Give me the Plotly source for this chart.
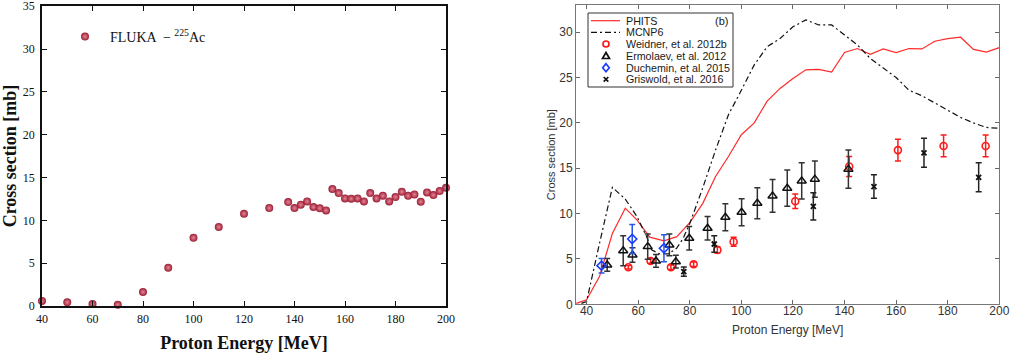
import plotly.graph_objects as go

W, H = 1018, 353
def px(x): return x / W
def py(y): return 1 - y / H

# ---------------- data: left panel (FLUKA) ----------------
fluka_E = [40, 50, 60, 70, 80, 90, 100, 110, 120, 130, 137.5, 140, 142.5, 145, 147.5, 150, 152.5,
           155, 157.5, 160, 162.5, 165, 167.5, 170, 172.5, 175, 177.5, 180, 182.5, 185, 187.5,
           190, 192.5, 195, 197.5, 200]
fluka_xs = [0.58, 0.43, 0.23, 0.15, 1.63, 4.47, 7.97, 9.22, 10.77, 11.43, 12.13, 11.43, 11.82, 12.21,
            11.55, 11.40, 11.16, 13.65, 13.18, 12.56, 12.52, 12.56, 12.21, 13.18, 12.56, 12.87, 12.21,
            12.72, 13.34, 12.87, 13.03, 12.17, 13.26, 12.95, 13.42, 13.81]

# ---------------- data: right panel ----------------
phits_E = [36, 40, 45, 50, 55, 59.5, 64.5, 70, 75, 80, 85, 90, 95, 100, 105, 110, 115, 120, 125, 130,
           135, 140, 145, 150, 155, 160, 165, 170, 175, 180, 185, 190, 195, 200]
phits_xs = [0.1, 0.5, 3.05, 7.8, 10.6, 9.3, 7.4, 7.0, 7.46, 9.0, 11.1, 14.1, 16.3, 18.7, 20.0, 22.4,
            23.8, 24.9, 25.85, 25.9, 25.6, 27.76, 28.2, 27.57, 28.16, 27.76, 28.2, 28.16, 29.0, 29.3,
            29.45, 28.1, 27.8, 28.3]

mcnp_E = [38, 40, 45, 50, 55, 59.5, 63.3, 65.2, 68.4, 71.6, 74.9, 77.5, 80, 85, 90, 95, 100, 105, 110,
          115, 120, 125, 130, 135, 140, 145, 150, 155, 160, 165, 170, 175, 180, 185, 190, 195, 200]
mcnp_xs = [0.1, 0.3, 6.7, 12.9, 11.6, 9.7, 7.45, 6.0, 5.55, 5.55, 6.17, 7.3, 8.9, 12.8, 17.0, 20.9,
           23.6, 26.4, 28.4, 29.3, 30.6, 31.36, 30.8, 30.8, 29.7, 28.6, 27.1, 26.0, 25.0, 23.6, 23.0,
           22.2, 21.4, 20.6, 20.0, 19.5, 19.4]

weid_E = [56.2, 64.8, 72.7, 81.5, 90.7, 97.0, 120.9, 141.8, 160.7, 178.4, 194.7]
weid_xs = [4.08, 4.78, 4.08, 4.41, 6.0, 6.9, 11.36, 15.2, 17.0, 17.46, 17.46]
weid_err = [0.2, 0.25, 0.25, 0.25, 0.35, 0.5, 0.8, 1.1, 1.2, 1.2, 1.2]

erm_E = [48.0, 54.2, 57.8, 63.7, 66.9, 72.1, 74.6, 79.8, 86.9, 93.8, 100.1, 106.2, 112.1, 117.8,
         123.4, 128.5, 141.5]
erm_xs = [4.34, 5.9, 5.44, 6.36, 4.78, 6.54, 4.7, 7.28, 8.38, 9.6, 10.15, 11.14, 11.95, 12.8, 13.6,
          13.8, 14.9]
erm_err = [0.7, 1.65, 0.8, 1.4, 0.7, 1.2, 0.7, 1.3, 1.3, 1.5, 1.5, 1.7, 1.8, 2.0, 2.0, 2.0, 2.1]

duch_E = [45.8, 57.7, 70.0]
duch_xs = [4.26, 7.2, 6.18]
duch_err = [0.8, 1.6, 1.5]

gris_E = [77.7, 89.5, 127.9, 151.4, 170.8, 192.0]
gris_xs = [3.6, 6.65, 10.8, 12.98, 16.7, 14.0]
gris_err = [0.5, 0.9, 1.5, 1.3, 1.6, 1.6]

legend_names = ["PHITS", "MCNP6", "Weidner, et al. 2012b", "Ermolaev, et al. 2012",
                "Duchemin, et al. 2015", "Griswold, et al. 2016"]

RED, BLK, BLU = "#ff1a1a", "#111111", "#1a3cff"

fig = go.Figure()

# left
fig.add_trace(go.Scatter(
    x=fluka_E, y=fluka_xs, mode="markers", name="FLUKA  \u2212 <sup>225</sup>Ac",
    xaxis="x", yaxis="y", legend="legend2", cliponaxis=False,
    marker=dict(size=8, color="#9a1f36", line=dict(width=0),
                gradient=dict(type="radial", color="#e98596")),
))

# right
fig.add_trace(go.Scatter(x=phits_E, y=phits_xs, mode="lines", xaxis="x2", yaxis="y2",
                         line=dict(color="#ff2a2a", width=1.2), showlegend=False))
fig.add_trace(go.Scatter(x=mcnp_E, y=mcnp_xs, mode="lines", xaxis="x2", yaxis="y2",
                         line=dict(color=BLK, width=1.2, dash="6px,3px,2px,3px"), showlegend=False))
fig.add_trace(go.Scatter(x=weid_E, y=weid_xs, mode="markers", xaxis="x2", yaxis="y2", showlegend=False,
                         marker=dict(symbol="circle-open", size=7, color=RED, line=dict(width=1.6)),
                         error_y=dict(type="data", array=weid_err, color=RED, thickness=1.5, width=3)))
fig.add_trace(go.Scatter(x=erm_E, y=erm_xs, mode="markers", xaxis="x2", yaxis="y2", showlegend=False,
                         marker=dict(symbol="triangle-up-open", size=8, color=BLK, line=dict(width=1.5)),
                         error_y=dict(type="data", array=erm_err, color="#333333", thickness=1.5, width=3)))
fig.add_trace(go.Scatter(x=duch_E, y=duch_xs, mode="markers", xaxis="x2", yaxis="y2", showlegend=False,
                         marker=dict(symbol="diamond-open", size=7, color=BLU, line=dict(width=1.6)),
                         error_y=dict(type="data", array=duch_err, color="#2a55e8", thickness=1.5, width=3)))
fig.add_trace(go.Scatter(x=gris_E, y=gris_xs, mode="markers", xaxis="x2", yaxis="y2", showlegend=False,
                         marker=dict(symbol="x-thin-open", size=5, color=BLK, line=dict(width=1.8)),
                         error_y=dict(type="data", array=gris_err, color="#222222", thickness=1.5, width=3)))

serif = "Liberation Serif"
sans = "Liberation Sans"

shapes = []
annotations = []

# compact legend for right panel
shapes.append(dict(type="rect", xref="paper", yref="paper", x0=px(588), x1=px(733), y0=py(87), y1=py(13),
                   line=dict(color="#333333", width=1), fillcolor="white", layer="above"))
rows = [20.7, 32.3, 44.0, 56.0, 67.7, 79.3]
shapes.append(dict(type="line", xref="paper", yref="paper", x0=px(591), x1=px(620), y0=py(rows[0]), y1=py(rows[0]),
                   line=dict(color="#ff2a2a", width=1.2), layer="above"))
shapes.append(dict(type="line", xref="paper", yref="paper", x0=px(591), x1=px(620), y0=py(rows[1]), y1=py(rows[1]),
                   line=dict(color=BLK, width=1.2, dash="6px,3px,2px,3px"), layer="above"))
shapes.append(dict(type="circle", xref="paper", yref="paper", xsizemode="pixel", ysizemode="pixel",
                   xanchor=px(606), yanchor=py(rows[2]), x0=-3, x1=3, y0=-3, y1=3,
                   line=dict(color=RED, width=1.7), layer="above"))
glyphs = [
    None, None, None,
    ("M-3.5,-2.5 L3.5,-2.5 L0,3.5 Z", BLK),
    ("M0,4 L3.3,0 L0,-4 L-3.3,0 Z", BLU),
    ("M-2.3,-2.3 L2.3,2.3 M-2.3,2.3 L2.3,-2.3", BLK),
]
for i, name in enumerate(legend_names):
    annotations.append(dict(x=px(624), y=py(rows[i]), xref="paper", yref="paper", text=name,
                            showarrow=False, xanchor="left", yanchor="middle",
                            font=dict(family=sans, size=10.7, color="#1a1a1a")))
    if glyphs[i]:
        path, c = glyphs[i]
        shapes.append(dict(type="path", xref="paper", yref="paper", xsizemode="pixel", ysizemode="pixel",
                           xanchor=px(606), yanchor=py(rows[i]), path=path,
                           line=dict(color=c, width=1.7), layer="above"))
annotations.append(dict(x=px(730), y=py(21), xref="paper", yref="paper", text="(b)", showarrow=False,
                        xanchor="right", yanchor="middle", font=dict(family=sans, size=11, color="#1a1a1a")))

fig.update_layout(
    width=W, height=H, margin=dict(l=0, r=0, t=0, b=0),
    paper_bgcolor="white", plot_bgcolor="white",
    showlegend=True,
    legend2=dict(x=px(60), y=py(21), xanchor="left", yanchor="top", bgcolor="rgba(0,0,0,0)",
                 itemwidth=40, font=dict(family=serif, size=14, color="#111111")),
    xaxis=dict(domain=[px(42), px(446)], range=[40, 200], tickvals=list(range(40, 201, 20)),
               ticks="inside", ticklen=5, tickwidth=1.2, tickcolor="#111", mirror="ticks",
               showline=True, linecolor="#111", linewidth=1.5, showgrid=False, zeroline=False,
               tickfont=dict(family=serif, size=12, color="#111"), ticklabelstandoff=1,
               automargin=False,
               title=dict(text="<b>Proton Energy [MeV]</b>", font=dict(family=serif, size=18, color="#111"), standoff=14),
               anchor="y"),
    yaxis=dict(domain=[py(306), py(6)], range=[0, 35.02], tickvals=list(range(0, 36, 5)),
               ticks="inside", ticklen=5, tickwidth=1.2, tickcolor="#111", mirror="ticks",
               showline=True, linecolor="#111", linewidth=1.5, showgrid=False, zeroline=False,
               tickfont=dict(family=serif, size=12, color="#111"), ticklabelstandoff=3,
               ticklabeloverflow="allow", automargin=False,
               title=dict(text="<b>Cross section [mb]</b>", font=dict(family=serif, size=18, color="#111"), standoff=4),
               anchor="x"),
    xaxis2=dict(domain=[px(576), px(999.3)], range=[35.9, 200], tickvals=list(range(40, 201, 20)),
                ticks="inside", ticklen=4, tickwidth=1, tickcolor="#666", mirror="ticks",
                showline=True, linecolor="#777", linewidth=1, showgrid=False, zeroline=False,
                tickfont=dict(family=sans, size=12, color="#333"), ticklabelstandoff=-5,
                automargin=False,
                title=dict(text="Proton Energy [MeV]", font=dict(family=sans, size=12, color="#333"), standoff=8),
                anchor="y2"),
    yaxis2=dict(domain=[py(304.3), py(5)], range=[0, 33], tickvals=list(range(0, 31, 5)),
                ticks="inside", ticklen=4, tickwidth=1, tickcolor="#666", mirror="ticks",
                showline=True, linecolor="#777", linewidth=1, showgrid=False, zeroline=False,
                tickfont=dict(family=sans, size=12, color="#333"), automargin=False,
                title=dict(text="Cross section [mb]", font=dict(family=sans, size=11, color="#333"), standoff=1),
                anchor="x2"),
    shapes=shapes, annotations=annotations,
)

fig.write_html("out.html")
